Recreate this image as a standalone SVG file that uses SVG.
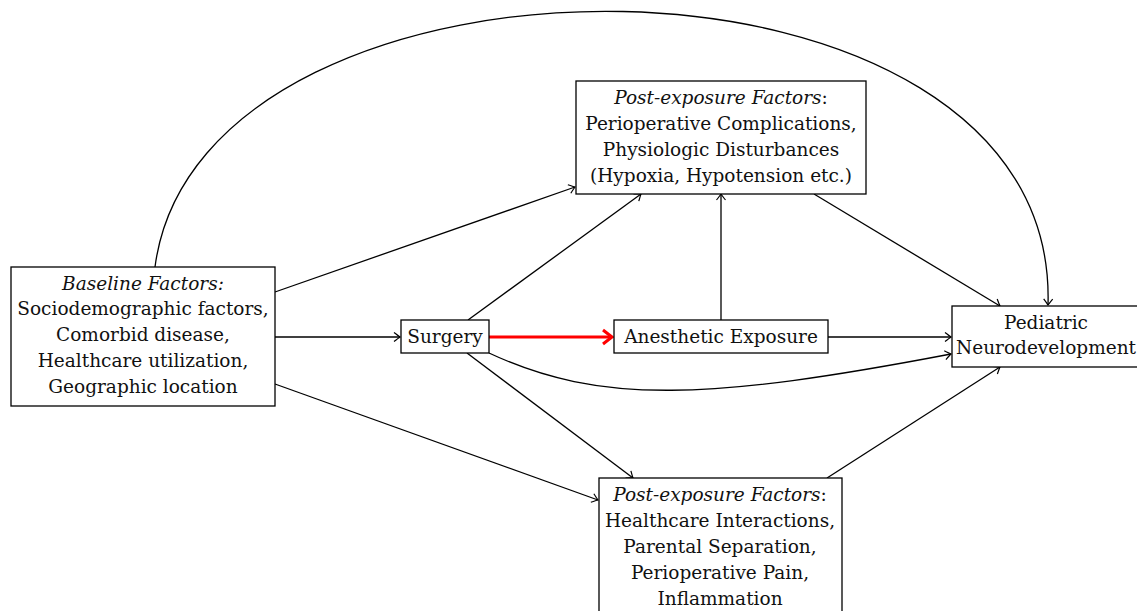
<svg xmlns="http://www.w3.org/2000/svg" width="1137" height="611" viewBox="0 0 1137 611">
<style>
.box{fill:#fff;stroke:#000;stroke-width:1.3}
text{font-family:"DejaVu Serif","Liberation Serif",serif;font-size:18.5px;fill:#111;text-anchor:middle}
.it{font-style:italic}
.e{fill:none;stroke:#000;stroke-width:1.3;marker-end:url(#ah)}
.red{fill:none;stroke:#f00;stroke-width:3;marker-end:url(#ahr)}
</style>
<defs>
<marker id="ah" viewBox="-8 -6 10 12" markerWidth="10" markerHeight="12" refX="0" refY="0" orient="auto" markerUnits="userSpaceOnUse">
<path d="M-6,-4.5 Q-1.5,-1 0,0 Q-1.5,1 -6,4.5" fill="none" stroke="#000" stroke-width="1.2"/>
</marker>
<marker id="ahr" viewBox="-12 -9 14 18" markerWidth="14" markerHeight="18" refX="0" refY="0" orient="auto" markerUnits="userSpaceOnUse">
<path d="M-9,-7 Q-2,-1.5 0,0 Q-2,1.5 -9,7" fill="none" stroke="#f00" stroke-width="3"/>
</marker>
</defs>
<g id="connectors">
<path class="e" d="M155,267 C200,-80 1060,-80 1048,305"/>
<path class="e" d="M275,292 L575,187"/>
<path class="e" d="M275,337 L400,337"/>
<path class="e" d="M275,384 L598,500"/>
<path class="e" d="M468,320 L641,194"/>
<path class="red" d="M489,337 L612,337"/>
<path class="e" d="M489,353 C600,405 710,400 951,354"/>
<path class="e" d="M467,353 L633,478"/>
<path class="e" d="M721,320 L721,194"/>
<path class="e" d="M828,337 L951,337"/>
<path class="e" d="M814,194 L1000,306"/>
<path class="e" d="M827,478 L1000,367"/>
</g>
<g id="baseline">
<rect class="box" x="11" y="267" width="264" height="139"/>
<text x="143" y="290" class="it">Baseline Factors:</text>
<text x="143" y="315">Sociodemographic factors,</text>
<text x="143" y="341">Comorbid disease,</text>
<text x="143" y="367">Healthcare utilization,</text>
<text x="143" y="393">Geographic location</text>
</g>
<g id="surgery">
<rect class="box" x="401" y="320" width="88" height="33"/>
<text x="445" y="343">Surgery</text>
</g>
<g id="anesthetic">
<rect class="box" x="614" y="320" width="214" height="33"/>
<text x="721" y="343">Anesthetic Exposure</text>
</g>
<g id="post-top">
<rect class="box" x="576" y="81" width="290" height="113"/>
<text x="721" y="104"><tspan class="it">Post-exposure Factors</tspan>:</text>
<text x="721" y="130">Perioperative Complications,</text>
<text x="721" y="156">Physiologic Disturbances</text>
<text x="721" y="182">(Hypoxia, Hypotension etc.)</text>
</g>
<g id="post-bottom">
<rect class="box" x="599" y="478" width="243" height="140"/>
<text x="720" y="501"><tspan class="it">Post-exposure Factors</tspan>:</text>
<text x="720" y="527">Healthcare Interactions,</text>
<text x="720" y="553">Parental Separation,</text>
<text x="720" y="579">Perioperative Pain,</text>
<text x="720" y="605">Inflammation</text>
</g>
<g id="pediatric">
<rect class="box" x="952" y="306" width="190" height="61"/>
<text x="1046" y="329">Pediatric</text>
<text x="1046" y="354">Neurodevelopment</text>
</g>
</svg>
